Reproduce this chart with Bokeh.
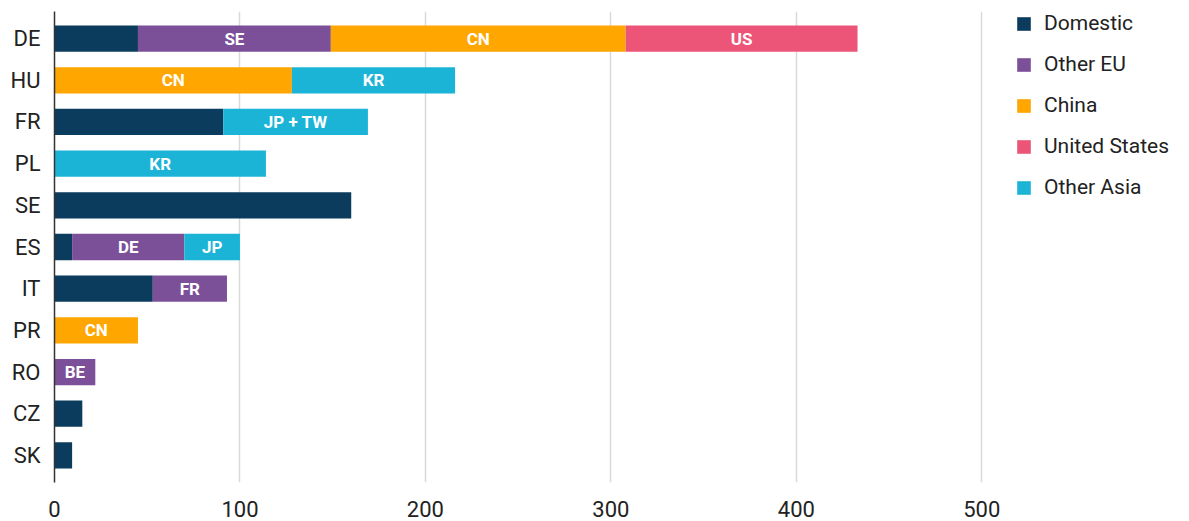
from bokeh.plotting import figure
from bokeh.models import FactorRange, Range1d, Legend, LegendItem, ColumnDataSource
from bokeh.core.properties import value
from bokeh.embed import file_html
from bokeh.resources import INLINE

countries = ["DE", "HU", "FR", "PL", "SE", "ES", "IT", "PR", "RO", "CZ", "SK"]
series_names = ["Domestic", "Other EU", "China", "United States", "Other Asia"]
domestic = [45, 0, 91, 0, 160, 9.5, 53, 0, 0, 15, 9.5]
other_eu = [104, 0, 0, 0, 0, 60.5, 40, 0, 22, 0, 0]
china = [159, 128, 0, 0, 0, 0, 0, 45, 0, 0, 0]
united_states = [125, 0, 0, 0, 0, 0, 0, 0, 0, 0, 0]
other_asia = [0, 88, 78, 114, 0, 30, 0, 0, 0, 0, 0]
# segment labels (origin of the supplier), per series per country
lab_domestic = [""] * 11
lab_other_eu = ["SE", "", "", "", "", "DE", "FR", "", "BE", "", ""]
lab_china = ["CN", "CN", "", "", "", "", "", "CN", "", "", ""]
lab_us = ["US", "", "", "", "", "", "", "", "", "", ""]
lab_other_asia = ["", "KR", "JP + TW", "KR", "", "JP", "", "", "", "", ""]
x_ticks = [0, 100, 200, 300, 400, 500]

colors = ["#0b3c5d", "#7b5098", "#ffa600", "#ec5577", "#1bb4d7"]
keys = ["domestic", "other_eu", "china", "us", "other_asia"]
vals = [domestic, other_eu, china, united_states, other_asia]
labs = [lab_domestic, lab_other_eu, lab_china, lab_us, lab_other_asia]

FONT = "Roboto"

data = {"country": countries}
for k, v in zip(keys, vals):
    data[k] = v
source = ColumnDataSource(data)

p = figure(
    width=1189, height=521,
    y_range=FactorRange(factors=list(reversed(countries)), range_padding=0.15,
                        range_padding_units="absolute"),
    # extra room to the right of 500 holds the legend
    x_range=Range1d(0, 612),
    output_backend="svg", toolbar_location=None,
    min_border_left=54, min_border_right=0, min_border_top=11, min_border_bottom=39,
)
p.outline_line_color = None

rends = p.hbar_stack(keys, y="country", height=0.63, color=colors, source=source,
                     line_color=None)

# segment labels
tx, ty, tt = [], [], []
cum = [0.0] * len(countries)
for v, l in zip(vals, labs):
    for i, c in enumerate(countries):
        if l[i]:
            tx.append(cum[i] + v[i] / 2.0)
            ty.append(c)
            tt.append(l[i])
        cum[i] += v[i]
p.text(x=tx, y=ty, text=tt, text_color="white", text_font=value(FONT),
       text_font_style="bold", text_font_size="17px", text_align="center",
       text_baseline="middle")

items = [LegendItem(label=n, renderers=[r]) for n, r in zip(series_names, rends)]
legend = Legend(items=items, location=(961, 283), orientation="vertical",
                glyph_width=17, glyph_height=17, label_standoff=12, spacing=17,
                label_height=24, label_text_font=FONT, label_text_font_size="21px",
                label_text_color="#222222", border_line_color=None,
                background_fill_alpha=0, padding=0, margin=0)
p.add_layout(legend)

p.xaxis.ticker = x_ticks
p.xaxis.axis_line_color = None
p.xaxis.major_tick_line_color = None
p.xaxis.minor_tick_line_color = None
p.xaxis.major_label_text_font = FONT
p.xaxis.major_label_text_font_size = "22px"
p.xaxis.major_label_text_color = "#222222"
p.xaxis.major_label_standoff = 12

p.yaxis.axis_line_color = "#333333"
p.yaxis.axis_line_width = 1.5
p.yaxis.major_tick_line_color = None
p.yaxis.minor_tick_line_color = None
p.yaxis.major_label_text_font = FONT
p.yaxis.major_label_text_font_size = "22px"
p.yaxis.major_label_text_color = "#222222"
p.yaxis.major_label_standoff = 8

p.xgrid.grid_line_color = "#dadada"
p.xgrid.grid_line_width = 1.5
p.ygrid.grid_line_color = None

open("out.html", "w").write(file_html(p, INLINE))
